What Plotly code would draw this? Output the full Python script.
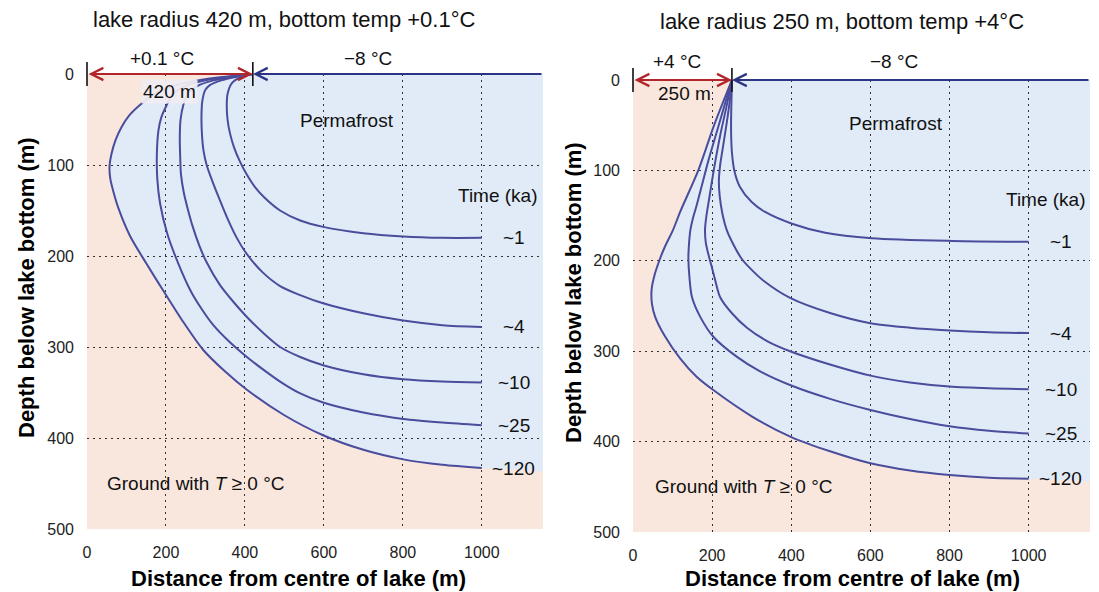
import plotly.graph_objects as go

W, H = 1099, 592
X_MAX = 1155
Y_MAX = 500

TIME_LABELS = ["~1", "~4", "~10", "~25", "~120"]

# ---------------- left panel: lake radius 420 m, +0.1 °C ----------------
L_RADIUS = 420
L_EDGE_Y = 437
L1_X = [420, 392, 367, 356, 354, 356, 362, 372, 386, 404, 425, 450, 489, 540, 598, 700, 801, 900, 1000]
L1_Y = [0, 3, 10, 22, 35, 50, 65, 80, 95, 110, 124, 136, 150, 161, 168, 175, 178.5, 180, 180]
L4_X = [420, 380, 340, 312, 299, 292, 290, 291, 295, 303, 316, 335, 354, 378, 405, 445, 489, 540, 598, 700, 801, 900, 1000]
L4_Y = [0, 3, 7, 12, 18, 30, 45, 65, 84, 100, 116, 137, 157, 179, 198, 218, 233, 243, 252, 263, 271, 276, 278]
L10_X = [420, 370, 320, 280, 255, 244, 237, 235, 236, 238, 245, 255, 268, 284, 302, 337, 370, 405, 450, 489, 540, 598, 700, 801, 900, 1000]
L10_Y = [0, 3, 7, 13, 22, 34, 50, 70, 90, 110, 130, 148, 168, 188, 206, 232, 250, 267, 286, 300, 311, 320, 330, 335.5, 338, 339]
L25_X = [420, 360, 300, 250, 218, 202, 188, 181, 177, 178, 185, 203, 230, 261, 290, 320, 360, 405, 450, 489, 540, 598, 700, 801, 900, 1000]
L25_Y = [0, 3, 7, 13, 22, 34, 48, 62, 87, 115, 142, 175, 207, 237, 258, 276, 294, 311, 326, 338, 351, 361, 372, 379, 383, 386]
L120_X = [420, 350, 280, 220, 170, 134, 108, 88, 72, 62, 57, 59, 66, 80, 109, 150, 193, 240, 294, 350, 405, 500, 598, 700, 801, 900, 1000]
L120_Y = [0, 3, 7, 13, 22, 34, 45, 58, 73, 88, 102, 115, 128, 148, 178, 208, 238, 270, 303, 327, 347, 375, 397, 413, 423.5, 429.5, 433]

# ---------------- right panel: lake radius 250 m, +4 °C ----------------
R_RADIUS = 250
R_EDGE_Y = 444
R1_X = [250, 249, 248, 248, 250, 256, 270, 300, 334, 402, 486, 604, 807, 1000]
R1_Y = [0, 20, 40, 60, 80, 100, 118, 135, 146, 159, 169, 175, 178, 179]
R4_X = [250, 244, 236, 227, 220, 217, 219, 226, 237, 255, 275, 300, 330, 397, 500, 600, 700, 800, 900, 1000]
R4_Y = [0, 25, 50, 75, 95, 112, 128, 148, 166, 183, 198, 210, 222, 241, 258, 269, 274, 277, 279, 280]
R10_X = [250, 236, 221, 206, 193, 185, 182, 184, 190, 198, 208, 220, 250, 288, 340, 397, 500, 600, 700, 800, 900, 1000]
R10_Y = [0, 30, 60, 95, 130, 152, 166, 180, 192, 205, 222, 240, 258, 274, 289, 300, 315, 327, 334.5, 339, 341, 342]
R25_X = [250, 230, 210, 190, 175, 160, 152, 145, 141, 140, 143, 149, 170, 203, 262, 320, 400, 500, 600, 700, 800, 900, 1000]
R25_Y = [0, 30, 60, 90, 115, 140, 152, 166, 185, 198, 220, 240, 262, 284, 306, 322, 338, 353, 365, 375, 383, 388, 391]
R120_X = [250, 205, 165, 120, 101, 80, 68, 55, 47, 48, 56, 80, 119, 160, 203, 300, 400, 500, 600, 700, 800, 900, 1000]
R120_Y = [0, 50, 100, 145, 166, 185, 198, 215, 232, 248, 262, 283, 308, 328, 343, 372, 395, 411, 424, 432, 437, 440, 441]

PEACH = "#F9E7DD"
BLUE = "#E1EBF8"
CURVE = "#4A4C9C"
NAVY = "#2C3585"
RED = "#B2262B"
FONT = "Liberation Sans, Arial, sans-serif"

fig = go.Figure()

panels = [
    dict(xa="x", ya="y", R=L_RADIUS, edge=L_EDGE_Y,
         curves=[(L1_X, L1_Y), (L4_X, L4_Y), (L10_X, L10_Y), (L25_X, L25_Y), (L120_X, L120_Y)]),
    dict(xa="x2", ya="y2", R=R_RADIUS, edge=R_EDGE_Y,
         curves=[(R1_X, R1_Y), (R4_X, R4_Y), (R10_X, R10_Y), (R25_X, R25_Y), (R120_X, R120_Y)]),
]

shapes = []
annotations = []
for p in panels:
    xa, ya = p["xa"], p["ya"]
    ox, oy = p["curves"][-1]
    # permafrost region (drawn below gridlines)
    path = "M " + " L ".join(f"{x},{y}" for x, y in zip(ox, oy))
    path += f" L {X_MAX},{p['edge']} L {X_MAX},0 Z"
    shapes.append(dict(type="path", path=path, xref=xa, yref=ya, layer="below",
                       fillcolor=BLUE, line=dict(width=0)))
    for (cx, cy), lab in zip(p["curves"], TIME_LABELS):
        fig.add_trace(go.Scatter(x=cx, y=cy, xaxis=xa, yaxis=ya, mode="lines",
                                 line=dict(color=CURVE, width=2, shape="spline", smoothing=0.8),
                                 hoverinfo="skip", showlegend=False))
        annotations.append(dict(x=cx[-1], y=cy[-1], xref=xa, yref=ya, text=lab, showarrow=False,
                                xanchor="center", yanchor="middle",
                                xshift=32, font=dict(size=19, color="#111", family=FONT)))
    # vertical tick marks at lake centre and lake edge
    fig.add_trace(go.Scatter(x=[0, p["R"]], y=[0, 0], xaxis=xa, yaxis=ya, mode="markers",
                             marker=dict(symbol="line-ns-open", size=17, color="#111",
                                         line=dict(width=1.6, color="#111")),
                             cliponaxis=False, hoverinfo="skip", showlegend=False))
    # red double arrow (lake)
    annotations.append(dict(x=p["R"], y=0, ax=0, ay=0, xref=xa, yref=ya, axref=xa, ayref=ya,
                            text="", showarrow=True, arrowhead=5, startarrowhead=5,
                            arrowside="end+start", arrowsize=1.2, startarrowsize=1.2,
                            arrowwidth=2, arrowcolor=RED, standoff=0, startstandoff=0))
    # navy line (frozen ground surface) with head at lake edge
    annotations.append(dict(x=p["R"], y=0, ax=X_MAX, ay=0, xref=xa, yref=ya, axref=xa, ayref=ya,
                            text="", showarrow=True, arrowhead=5, arrowsize=1.2,
                            arrowwidth=2, arrowcolor=NAVY, standoff=0))

txt = dict(size=19, color="#111", family=FONT)


def data_label(x, y, xa, ya, text, **kw):
    d = dict(x=x, y=y, xref=xa, yref=ya, text=text, showarrow=False, font=txt,
             xanchor="center", yanchor="middle")
    d.update(kw)
    return d


def paper_label(px, py, text, font, **kw):
    d = dict(x=px / W, y=1 - py / H, xref="paper", yref="paper", text=text, showarrow=False,
             font=font, xanchor="center", yanchor="middle")
    d.update(kw)
    return d


annotations += [
    data_label(210, 19, "x", "y", "420 m", bgcolor="rgba(240,236,242,0.93)", borderpad=1),
    data_label(659, 51, "x", "y", "Permafrost"),
    data_label(1042, 134, "x", "y", "Time (ka)"),
    data_label(276, 450, "x", "y", "Ground with <i>T</i> ≥ 0 °C"),
    data_label(130, 15, "x2", "y2", "250 m"),
    data_label(665, 48, "x2", "y2", "Permafrost"),
    data_label(1043, 132, "x2", "y2", "Time (ka)"),
    data_label(280, 450, "x2", "y2", "Ground with <i>T</i> ≥ 0 °C"),
    paper_label(162, 58, "+0.1 °C", txt),
    paper_label(368, 58, "−8 °C", txt),
    paper_label(677, 62, "+4 °C", txt),
    paper_label(894, 62, "−8 °C", txt),
]

title_font = dict(size=22, color="#111", family=FONT)
axis_font = dict(size=22, color="#000", family=FONT)
annotations += [
    paper_label(284, 20, "lake radius 420 m, bottom temp +0.1°C", title_font),
    paper_label(842, 21, "lake radius 250 m, bottom temp +4°C", title_font),
    paper_label(298, 578, "<b>Distance from centre of lake (m)</b>", axis_font),
    paper_label(852, 578, "<b>Distance from centre of lake (m)</b>", axis_font),
    paper_label(26, 288, "<b>Depth below lake bottom (m)</b>", axis_font, textangle=-90),
    paper_label(573, 293, "<b>Depth below lake bottom (m)</b>", axis_font, textangle=-90),
]

grid = dict(showgrid=True, gridcolor="#333", gridwidth=1, griddash="1.5px,4.5px",
            zeroline=False, showline=False, ticks="", ticklabelstandoff=12, automargin=False,
            tickfont=dict(size=16, color="#222", family=FONT), fixedrange=True)

fig.update_layout(
    template="none",
    width=W, height=H,
    margin=dict(l=0, r=0, t=0, b=0, autoexpand=False),
    paper_bgcolor="white", plot_bgcolor=PEACH,
    showlegend=False,
    xaxis=dict(domain=[87 / W, 543 / W], range=[0, X_MAX], tick0=0, dtick=200, anchor="y", **grid),
    yaxis=dict(domain=[1 - 529 / H, 1 - 74 / H], range=[Y_MAX, 0], tick0=0, dtick=100, anchor="x", **grid),
    xaxis2=dict(domain=[633 / W, 1090 / W], range=[0, X_MAX], tick0=0, dtick=200, anchor="y2", **grid),
    yaxis2=dict(domain=[1 - 532 / H, 1 - 80 / H], range=[Y_MAX, 0], tick0=0, dtick=100, anchor="x2", **grid),
    shapes=shapes,
    annotations=annotations,
)

fig.write_html("out.html", config={"displayModeBar": False},
               post_script="document.body.style.margin='0';document.body.style.overflow='hidden';")
